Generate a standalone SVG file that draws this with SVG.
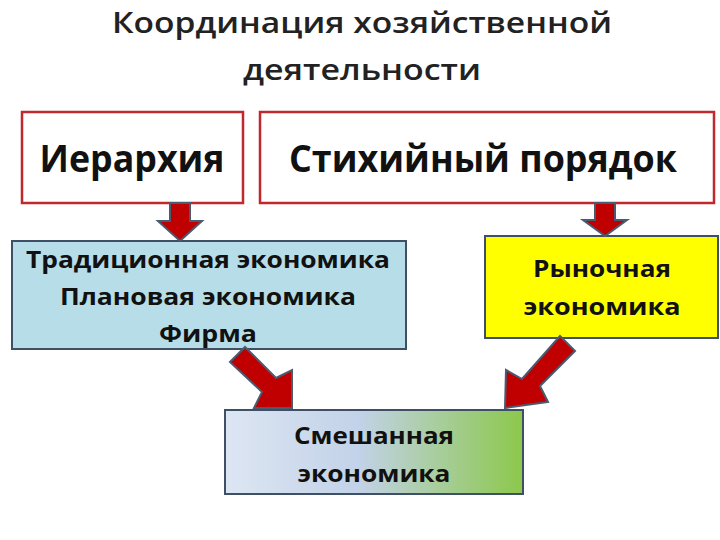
<svg xmlns="http://www.w3.org/2000/svg" width="720" height="540" viewBox="0 0 720 540">
<style>
text{font-family:"Open Sans","Liberation Sans",sans-serif;fill:#111;text-anchor:middle;font-weight:bold}
.t{font-size:29px;fill:#222;font-weight:600}
.big{font-size:38px}
.m{font-size:24px}
.r{fill:#fff;stroke:#c0282d;stroke-width:2.5}
.arr{fill:#c00000;stroke:#4a5a70;stroke-width:2}
</style>
<defs>
<linearGradient id="g" x1="0" x2="1" y1="0" y2="0">
<stop offset="0" stop-color="#dde6f3"/><stop offset="0.45" stop-color="#c2d2e8"/><stop offset="1" stop-color="#8cc84b"/>
</linearGradient>
</defs>
<rect width="720" height="540" fill="#fff"/>
<g id="title"><text class="t" x="362" y="33" textLength="500" lengthAdjust="spacingAndGlyphs">Координация хозяйственной</text><text class="t" x="362" y="80" textLength="238" lengthAdjust="spacingAndGlyphs">деятельности</text></g>
<g id="n1"><rect class="r" x="22" y="112" width="221" height="91"/><text class="big" x="132" y="172" textLength="185" lengthAdjust="spacingAndGlyphs">Иерархия</text></g>
<g id="n2"><rect class="r" x="260" y="112" width="454" height="91"/><text class="big" x="483" y="172" textLength="388" lengthAdjust="spacingAndGlyphs">Стихийный порядок</text></g>
<g id="n3"><rect x="12" y="241" width="394" height="108" fill="#b7dde8" stroke="#3f4f66" stroke-width="2"/>
<text class="m" x="208" y="268" textLength="364" lengthAdjust="spacingAndGlyphs">Традиционная экономика</text><text class="m" x="208" y="305" textLength="296" lengthAdjust="spacingAndGlyphs">Плановая экономика</text><text class="m" x="208" y="342" textLength="98" lengthAdjust="spacingAndGlyphs">Фирма</text></g>
<g id="n4"><rect x="485" y="236" width="233" height="102" fill="#ffff00" stroke="#3f4f66" stroke-width="2"/>
<text class="m" x="602" y="277" textLength="138" lengthAdjust="spacingAndGlyphs">Рыночная</text><text class="m" x="602" y="315" textLength="157" lengthAdjust="spacingAndGlyphs">экономика</text></g>
<g id="n5"><rect x="225" y="410" width="298" height="84" fill="url(#g)" stroke="#3f4f66" stroke-width="2"/>
<text class="m" x="374" y="444" textLength="160" lengthAdjust="spacingAndGlyphs">Смешанная</text><text class="m" x="374" y="482" textLength="153" lengthAdjust="spacingAndGlyphs">экономика</text></g>
<g id="connectors">
<polygon class="arr" points="170,203 190,203 190,221 202,221 180,241 158,221 170,221"/>
<polygon class="arr" points="595,203 615,203 615,220 627,220 605,236 583,220 595,220"/>
<polygon class="arr" points="230,362 245,347 276,378 292,370 292,408 254,408 262,392"/>
<polygon class="arr" points="560,336 575,351 540,386 548,402 505,408 506,370 522,379"/>
</g>
</svg>
